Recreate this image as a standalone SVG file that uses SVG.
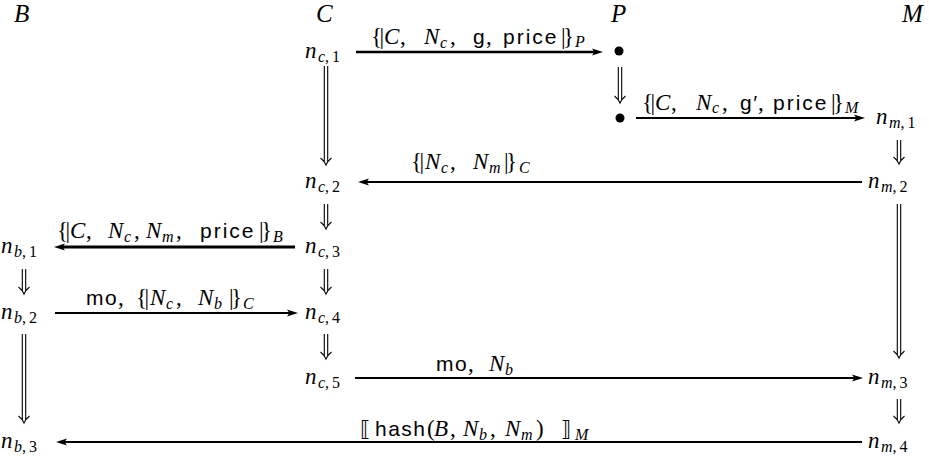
<svg xmlns="http://www.w3.org/2000/svg" width="929" height="458" viewBox="0 0 929 458">
<defs>
<style>
.m{font-family:"Liberation Serif",serif;font-style:italic;font-size:23px;fill:#000}
.h{font-family:"Liberation Serif",serif;font-style:italic;font-size:25px;fill:#000}
.r{font-family:"Liberation Serif",serif;font-style:normal;font-size:23px}
.br{font-family:"Liberation Serif",serif;font-style:normal;font-size:23px;letter-spacing:-2.5px}
.s{font-family:"Liberation Sans",sans-serif;font-style:normal;font-size:21px;letter-spacing:1.5px}
.sb{font-size:16px}
.sr{font-size:16px;font-style:normal}
.bk{font-family:"DejaVu Sans",sans-serif;font-style:normal;font-size:21px}
.ar{fill:none;stroke:#000;stroke-width:2}
.dbl{fill:none;stroke:#000;stroke-width:1.1}
</style>
<marker id="ah" markerUnits="userSpaceOnUse" markerWidth="12" markerHeight="9" refX="4" refY="4.5" orient="auto">
<path d="M0,1 L11,4.5 L0,8 L2.4,4.5 Z" fill="#000"/>
</marker>
</defs>
<rect width="929" height="458" fill="#fff"/>

<g id="headers">
<g id="lane-B"><text class="h" x="14" y="22">B</text></g>
<g id="lane-C"><text class="h" x="316" y="22">C</text></g>
<g id="lane-P"><text class="h" x="611" y="22">P</text></g>
<g id="lane-M"><text class="h" x="902" y="22">M</text></g>
</g>

<g id="connectors">
<g id="e1">
<path class="ar" style="stroke-width:2.6" d="M356 52 H596" marker-end="url(#ah)"/>
<text class="m"><tspan class="br" x="371" y="44">{|</tspan><tspan x="384" y="44">C</tspan><tspan class="r" x="400" y="44">,</tspan><tspan x="424" y="44">N</tspan><tspan class="sb" x="440" y="48">c</tspan><tspan class="r" x="450" y="44">,</tspan><tspan class="s" x="473" y="44">g</tspan><tspan class="r" x="486" y="44">,</tspan><tspan class="s" style="letter-spacing:2px" x="503" y="44">price</tspan><tspan class="br" x="561" y="44">|}</tspan><tspan class="sb" x="575" y="47">P</tspan></text>
</g>
<g id="e2">
<path class="ar" d="M636 118 H858" marker-end="url(#ah)"/>
<text class="m"><tspan class="br" x="642" y="110">{|</tspan><tspan x="655" y="110">C</tspan><tspan class="r" x="671" y="110">,</tspan><tspan x="696" y="110">N</tspan><tspan class="sb" x="712" y="113">c</tspan><tspan class="r" x="722" y="110">,</tspan><tspan class="s" x="740" y="110">g′</tspan><tspan class="r" x="758" y="110">,</tspan><tspan class="s" style="letter-spacing:2px" x="773" y="110">price</tspan><tspan class="br" x="831" y="110">|}</tspan><tspan class="sb" x="845" y="113">M</tspan></text>
</g>
<g id="e3">
<path class="ar" style="stroke-width:1.8" d="M862 182 H365" marker-end="url(#ah)"/>
<text class="m"><tspan class="br" x="411" y="169">{|</tspan><tspan x="425" y="169">N</tspan><tspan class="sb" x="441" y="173">c</tspan><tspan class="r" x="450" y="169">,</tspan><tspan x="473" y="169">N</tspan><tspan class="sb" x="489" y="173">m</tspan><tspan class="br" x="504" y="169">|}</tspan><tspan class="sb" x="519" y="173">C</tspan></text>
</g>
<g id="e4">
<path class="ar" style="stroke-width:2.8" d="M295 247 H61" marker-end="url(#ah)"/>
<text class="m"><tspan class="br" x="57" y="238">{|</tspan><tspan x="70" y="238">C</tspan><tspan class="r" x="86" y="238">,</tspan><tspan x="108" y="238">N</tspan><tspan class="sb" x="124" y="242">c</tspan><tspan class="r" x="134" y="238">,</tspan><tspan x="146" y="238">N</tspan><tspan class="sb" x="162" y="242">m</tspan><tspan class="r" x="176" y="238">,</tspan><tspan class="s" style="letter-spacing:2px" x="200" y="238">price</tspan><tspan class="br" x="259" y="238">|}</tspan><tspan class="sb" x="273" y="242">B</tspan></text>
</g>
<g id="e5">
<path class="ar" d="M55 313 H291" marker-end="url(#ah)"/>
<text class="m"><tspan class="s" x="86" y="305">mo</tspan><tspan class="r" x="118" y="305">,</tspan><tspan class="br" x="136" y="305">{|</tspan><tspan x="150" y="305">N</tspan><tspan class="sb" x="166" y="309">c</tspan><tspan class="r" x="176" y="305">,</tspan><tspan x="198" y="305">N</tspan><tspan class="sb" x="214" y="309">b</tspan><tspan class="br" x="229" y="305">|}</tspan><tspan class="sb" x="243" y="309">C</tspan></text>
</g>
<g id="e6">
<path class="ar" d="M355 378 H856" marker-end="url(#ah)"/>
<text class="m"><tspan class="s" x="436" y="371">mo</tspan><tspan class="r" x="468" y="371">,</tspan><tspan x="489" y="371">N</tspan><tspan class="sb" x="505" y="375">b</tspan></text>
</g>
<g id="e7">
<path class="ar" style="stroke-width:2.2" d="M862 442 H63" marker-end="url(#ah)"/>
<text class="m"><tspan class="bk" x="360" y="436">⟦</tspan><tspan class="s" x="375" y="436">hash</tspan><tspan class="r" x="427" y="436">(</tspan><tspan x="434" y="436">B</tspan><tspan class="r" x="450" y="436">,</tspan><tspan x="463" y="436">N</tspan><tspan class="sb" x="479" y="440">b</tspan><tspan class="r" x="490" y="436">,</tspan><tspan x="505" y="436">N</tspan><tspan class="sb" x="521" y="440">m</tspan><tspan class="r" x="536" y="436">)</tspan><tspan class="bk" x="561" y="436">⟧</tspan><tspan class="sb" x="575" y="440">M</tspan></text>
</g>

<g id="d-c1">
<path class="dbl" d="M324.3 66 V162 M327.7 66 V162 M320.5 158 C323 160 325 162.5 326 165 C327 162.5 329 160 331.5 158"/>
</g>
<g id="d-c2">
<path class="dbl" d="M324.3 204 V226 M327.7 204 V226 M320.5 222 C323 224 325 226.5 326 229 C327 226.5 329 224 331.5 222"/>
</g>
<g id="d-c3">
<path class="dbl" d="M324.3 269 V291 M327.7 269 V291 M320.5 287 C323 289 325 291.5 326 294 C327 291.5 329 289 331.5 287"/>
</g>
<g id="d-c4">
<path class="dbl" d="M324.3 334 V356 M327.7 334 V356 M320.5 352 C323 354 325 356.5 326 359 C327 356.5 329 354 331.5 352"/>
</g>
<g id="d-p">
<path class="dbl" d="M618.3 67 V100 M621.7 67 V100 M614.5 96 C617 98 619 100.5 620 103 C621 100.5 623 98 625.5 96"/>
</g>
<g id="d-m1">
<path class="dbl" d="M897.3 140 V161 M900.7 140 V161 M893.5 157 C896 159 898 161.5 899 164 C900 161.5 902 159 904.5 157"/>
</g>
<g id="d-m2">
<path class="dbl" d="M897.3 204 V355 M900.7 204 V355 M893.5 351 C896 353 898 355.5 899 358 C900 355.5 902 353 904.5 351"/>
</g>
<g id="d-m3">
<path class="dbl" d="M897.3 399 V420 M900.7 399 V420 M893.5 416 C896 418 898 420.5 899 423 C900 420.5 902 418 904.5 416"/>
</g>
<g id="d-b1">
<path class="dbl" d="M22.3 269 V291 M25.7 269 V291 M18.5 287 C21 289 23 291.5 24 294 C25 291.5 27 289 29.5 287"/>
</g>
<g id="d-b2">
<path class="dbl" d="M22.3 334 V420 M25.7 334 V420 M18.5 416 C21 418 23 420.5 24 423 C25 420.5 27 418 29.5 416"/>
</g>
</g>

<g id="n_c1"><text class="m" x="305" y="57.5">n<tspan class="sb" dx="1.5" dy="4">c</tspan><tspan class="sr">,</tspan><tspan class="sr" dx="3">1</tspan></text></g>
<g id="n_c2"><text class="m" x="305" y="187.5">n<tspan class="sb" dx="1.5" dy="4">c</tspan><tspan class="sr">,</tspan><tspan class="sr" dx="3">2</tspan></text></g>
<g id="n_c3"><text class="m" x="305" y="252.5">n<tspan class="sb" dx="1.5" dy="4">c</tspan><tspan class="sr">,</tspan><tspan class="sr" dx="3">3</tspan></text></g>
<g id="n_c4"><text class="m" x="305" y="318.5">n<tspan class="sb" dx="1.5" dy="4">c</tspan><tspan class="sr">,</tspan><tspan class="sr" dx="3">4</tspan></text></g>
<g id="n_c5"><text class="m" x="305" y="383.5">n<tspan class="sb" dx="1.5" dy="4">c</tspan><tspan class="sr">,</tspan><tspan class="sr" dx="3">5</tspan></text></g>

<g id="p_1"><circle cx="619" cy="51" r="4.5" fill="#000"/></g>
<g id="p_2"><circle cx="620" cy="118" r="4.5" fill="#000"/></g>

<g id="n_m1"><text class="m" x="876" y="123.5">n<tspan class="sb" dx="1.5" dy="4">m</tspan><tspan class="sr">,</tspan><tspan class="sr" dx="3">1</tspan></text></g>
<g id="n_m2"><text class="m" x="868" y="187.5">n<tspan class="sb" dx="1.5" dy="4">m</tspan><tspan class="sr">,</tspan><tspan class="sr" dx="3">2</tspan></text></g>
<g id="n_m3"><text class="m" x="868" y="383.5">n<tspan class="sb" dx="1.5" dy="4">m</tspan><tspan class="sr">,</tspan><tspan class="sr" dx="3">3</tspan></text></g>
<g id="n_m4"><text class="m" x="868" y="447.5">n<tspan class="sb" dx="1.5" dy="4">m</tspan><tspan class="sr">,</tspan><tspan class="sr" dx="3">4</tspan></text></g>

<g id="n_b1"><text class="m" x="1" y="252.5">n<tspan class="sb" dx="1.5" dy="4">b</tspan><tspan class="sr">,</tspan><tspan class="sr" dx="3">1</tspan></text></g>
<g id="n_b2"><text class="m" x="1" y="318.5">n<tspan class="sb" dx="1.5" dy="4">b</tspan><tspan class="sr">,</tspan><tspan class="sr" dx="3">2</tspan></text></g>
<g id="n_b3"><text class="m" x="1" y="447.5">n<tspan class="sb" dx="1.5" dy="4">b</tspan><tspan class="sr">,</tspan><tspan class="sr" dx="3">3</tspan></text></g>
</svg>
